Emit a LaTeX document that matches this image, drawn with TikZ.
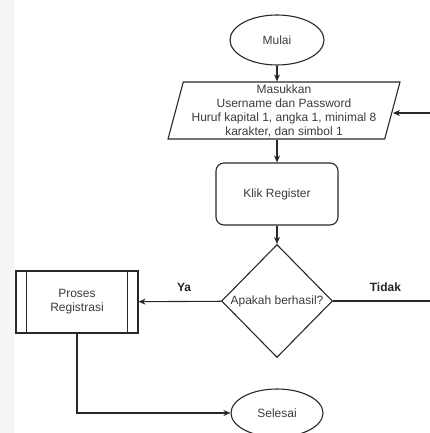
\documentclass[tikz,border=0pt]{standalone}
\usepackage{fontspec}
\setmainfont{Liberation Sans}
\usetikzlibrary{positioning,shapes.geometric,arrows.meta}
\definecolor{lineColor}{RGB}{40,40,40}
\definecolor{textColor}{RGB}{60,60,60}
\tikzstyle{flowchart} = [x = 1pt, y = -1pt, every node/.style={font=\fontsize{12}{14}\selectfont, text=textColor}]
\tikzstyle{shapeStyle} = [draw=lineColor, line width=1.1pt, fill=white, align=center, inner sep=0pt]
\tikzstyle{terminalStyle} = [shapeStyle, ellipse, minimum width=94, minimum height=50]
\tikzstyle{inputStyle} = [shapeStyle, trapezium, trapezium left angle=75, trapezium right angle=105, trapezium stretches=true, minimum width=232, minimum height=57]
\tikzstyle{stepStyle} = [shapeStyle, rectangle, rounded corners=8, minimum width=122, minimum height=62]
\tikzstyle{decisionStyle} = [shapeStyle, diamond, aspect=1, minimum width=111, minimum height=113]
\tikzstyle{processStyle} = [shapeStyle, rectangle, minimum width=122, minimum height=62]
\tikzstyle{arrowLine} = [draw=lineColor, line width=1.1pt, -{Stealth[length=7pt, width=6pt]}]
\tikzstyle{plainLine} = [draw=lineColor, line width=1.1pt]
\tikzstyle{branchText} = [font=\fontsize{12}{14}\selectfont\bfseries, text=black!85]

\begin{document}
\begin{tikzpicture}[flowchart]
          \useasboundingbox (0,0) rectangle (430,433);
          \fill[black!4] (0,0) rectangle (14,433);
          \node[terminalStyle] (mulai) at (277,40) {Mulai};
          \node[inputStyle] (masukkan) at (284,110.5) {Masukkan\\Username dan Password\\Huruf kapital 1, angka 1, minimal 8\\karakter, dan simbol 1};
          \node[stepStyle] (klik) at (277,194) {Klik Register};
          \node[decisionStyle] (apakah) at (277,301) {Apakah berhasil?};
          \node[processStyle] (proses) at (77,302) {Proses\\Registrasi};
          \draw[plainLine] ([xshift=11]proses.north west) -- ([xshift=11]proses.south west);
          \draw[plainLine] ([xshift=-11]proses.north east) -- ([xshift=-11]proses.south east);
          \node[terminalStyle, minimum width=92, minimum height=48] (selesai) at (277,413) {Selesai};
          \coordinate (tidakEnd) at (430,301);
          \coordinate (balikStart) at (430,113);
          \draw[arrowLine] (mulai) -- (mulai |- masukkan.north);
          \draw[arrowLine] (klik |- masukkan.south) -- (klik);
          \draw[arrowLine] (klik) -- (apakah);
          \draw[arrowLine] (apakah) -- (proses) node[branchText, pos=.45, above=6pt] {Ya};
          \draw[plainLine] (apakah) -- (tidakEnd) node[branchText, pos=.54, above=6pt] {Tidak};
          \draw[arrowLine] (balikStart) -- (balikStart -| masukkan.east);
          \draw[arrowLine] (proses) |- (selesai);
        \end{tikzpicture}
\end{document}
